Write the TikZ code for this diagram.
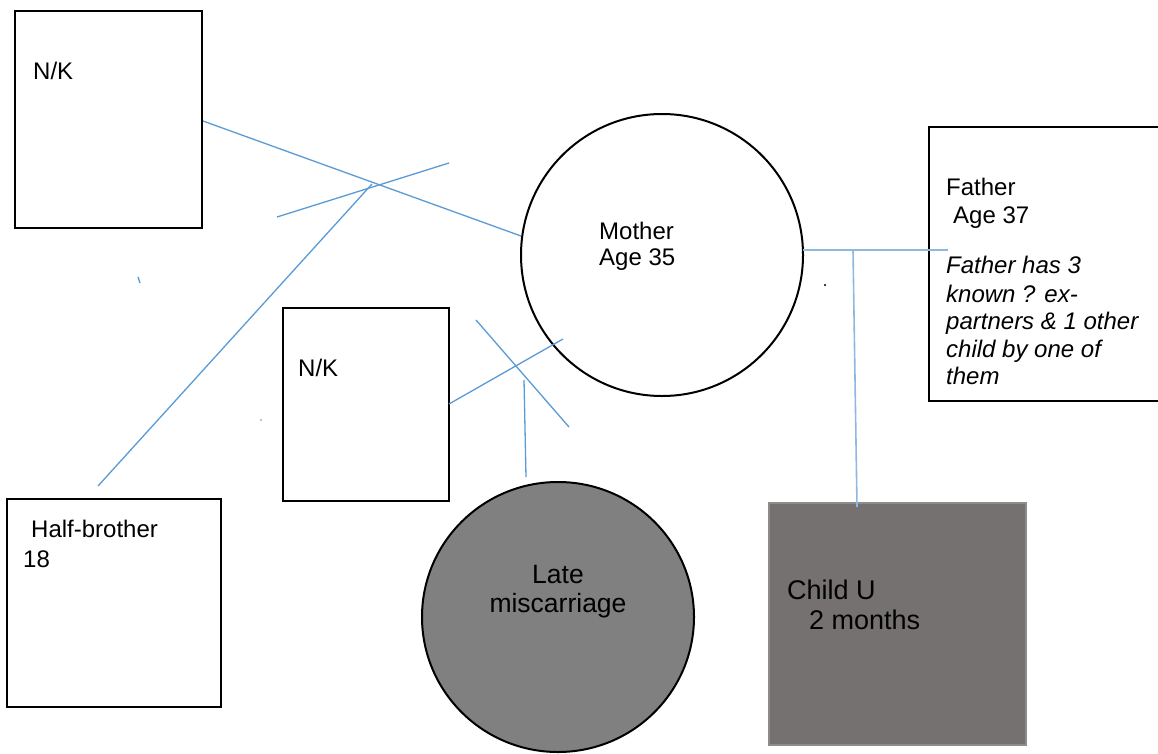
\documentclass[tikz,border=0pt]{standalone}
\usepackage{fontspec}
\setmainfont{Liberation Sans}
\usetikzlibrary{shapes.geometric}
\definecolor{lnblue}{HTML}{5B9BD5}
\definecolor{lnlight}{HTML}{8FB8E0}
\definecolor{miscgray}{HTML}{808080}
\definecolor{childgray}{HTML}{767171}
\definecolor{childedge}{HTML}{8C8C8C}
\tikzset{
  box/.style={draw=black, line width=2pt, rectangle, inner sep=0pt, fill=white},
  rel/.style={draw=lnblue, line width=1.3pt},
  rellight/.style={draw=lnlight, line width=1.6pt},
  lbl/.style={anchor=base west, inner sep=0pt, font=\fontsize{24}{26}\selectfont},
  lblbig/.style={anchor=base west, inner sep=0pt, font=\fontsize{27}{30}\selectfont},
  lblc/.style={anchor=base, inner sep=0pt, font=\fontsize{26.5}{29}\selectfont},
}
\begin{document}
\begin{tikzpicture}[x=1pt,y=-1pt]
\useasboundingbox (0,0) rectangle (1158,753);
\fill[white] (0,0) rectangle (1158,753);

% shapes
\node[box, minimum width=187pt, minimum height=217pt] (nk1) at (108.5,119.5) {};
\node[box, minimum width=166pt, minimum height=193pt] (nk2) at (366,404.5) {};
\node[box, minimum width=214pt, minimum height=208pt] (hb) at (114,603) {};
\node[box, minimum width=241pt, minimum height=274pt] (father) at (1049.5,264) {};
\node[draw=childedge, line width=1.5pt, fill=childgray, rectangle, inner sep=0pt,
      minimum width=257pt, minimum height=242pt] (child) at (897.5,624) {};
\node[draw=black, line width=2pt, circle, fill=white, inner sep=0pt, minimum size=282pt] (mother) at (662,255) {};
\node[draw=black, line width=2pt, ellipse, fill=miscgray, inner sep=0pt,
      minimum width=272pt, minimum height=270pt] (misc) at (558,617) {};

% connector end points
\coordinate (a1) at (203,121);   \coordinate (a2) at (521,236);
\coordinate (b1) at (277,217);   \coordinate (b2) at (449,163);
\coordinate (c1) at (98,486);    \coordinate (c2) at (372,184);
\coordinate (d1) at (138,277);   \coordinate (d2) at (140,283);
\coordinate (e1) at (449,404);   \coordinate (e2) at (563,339);
\coordinate (f1) at (476,320);   \coordinate (f2) at (569,427);
\coordinate (g1) at (524,380);   \coordinate (g2) at (526,477);
\coordinate (h1) at (803,250);   \coordinate (h2) at (948,250);
\coordinate (k1) at (853,250);   \coordinate (k2) at (857,507);

\draw[rel] (a1) -- (a2);
\draw[rel] (b1) -- (b2);
\draw[rel] (c1) -- (c2);
\draw[rel] (d1) -- (d2);
\draw[rel] (e1) -- (e2);
\draw[rel] (f1) -- (f2);
\draw[rel] (g1) -- (g2);
\draw[rellight] (h1) -- (h2);
\draw[rellight] (k1) -- (k2);

% stray dots
\fill[black] (825,285) circle (1.2pt);
\fill[black] (261,420) circle (0.6pt);

% texts
\node[lbl] (t1) at (33,79) {N/K};
\node[lbl] (t2) at (298,376) {N/K};
\node[lbl] (t3) at (31,537) {Half-brother};
\node[lbl] (t4) at (23,567) {18};
\node[lblc] (t5) at (558,583) {Late};
\node[lblc] (t6) at (558,612) {miscarriage};
\node[lbl] (t7) at (599,239) {Mother};
\node[lbl] (t8) at (599,265) {Age 35};
\node[lbl] (t9) at (946,195) {Father};
\node[lbl] (t10) at (953,223) {Age 37};
\node[lbl] (t11) at (946,273) {\itshape Father has 3};
\node[lbl] (t12) at (946,302) {\itshape known ? ex-};
\node[lbl] (t13) at (946,329) {\itshape partners \& 1 other};
\node[lbl] (t14) at (946,357) {\itshape child by one of};
\node[lbl] (t15) at (946,384) {\itshape them};
\node[lblbig] (t16) at (787,599) {Child U};
\node[lblbig] (t17) at (809,629) {2 months};
\end{tikzpicture}
\end{document}
